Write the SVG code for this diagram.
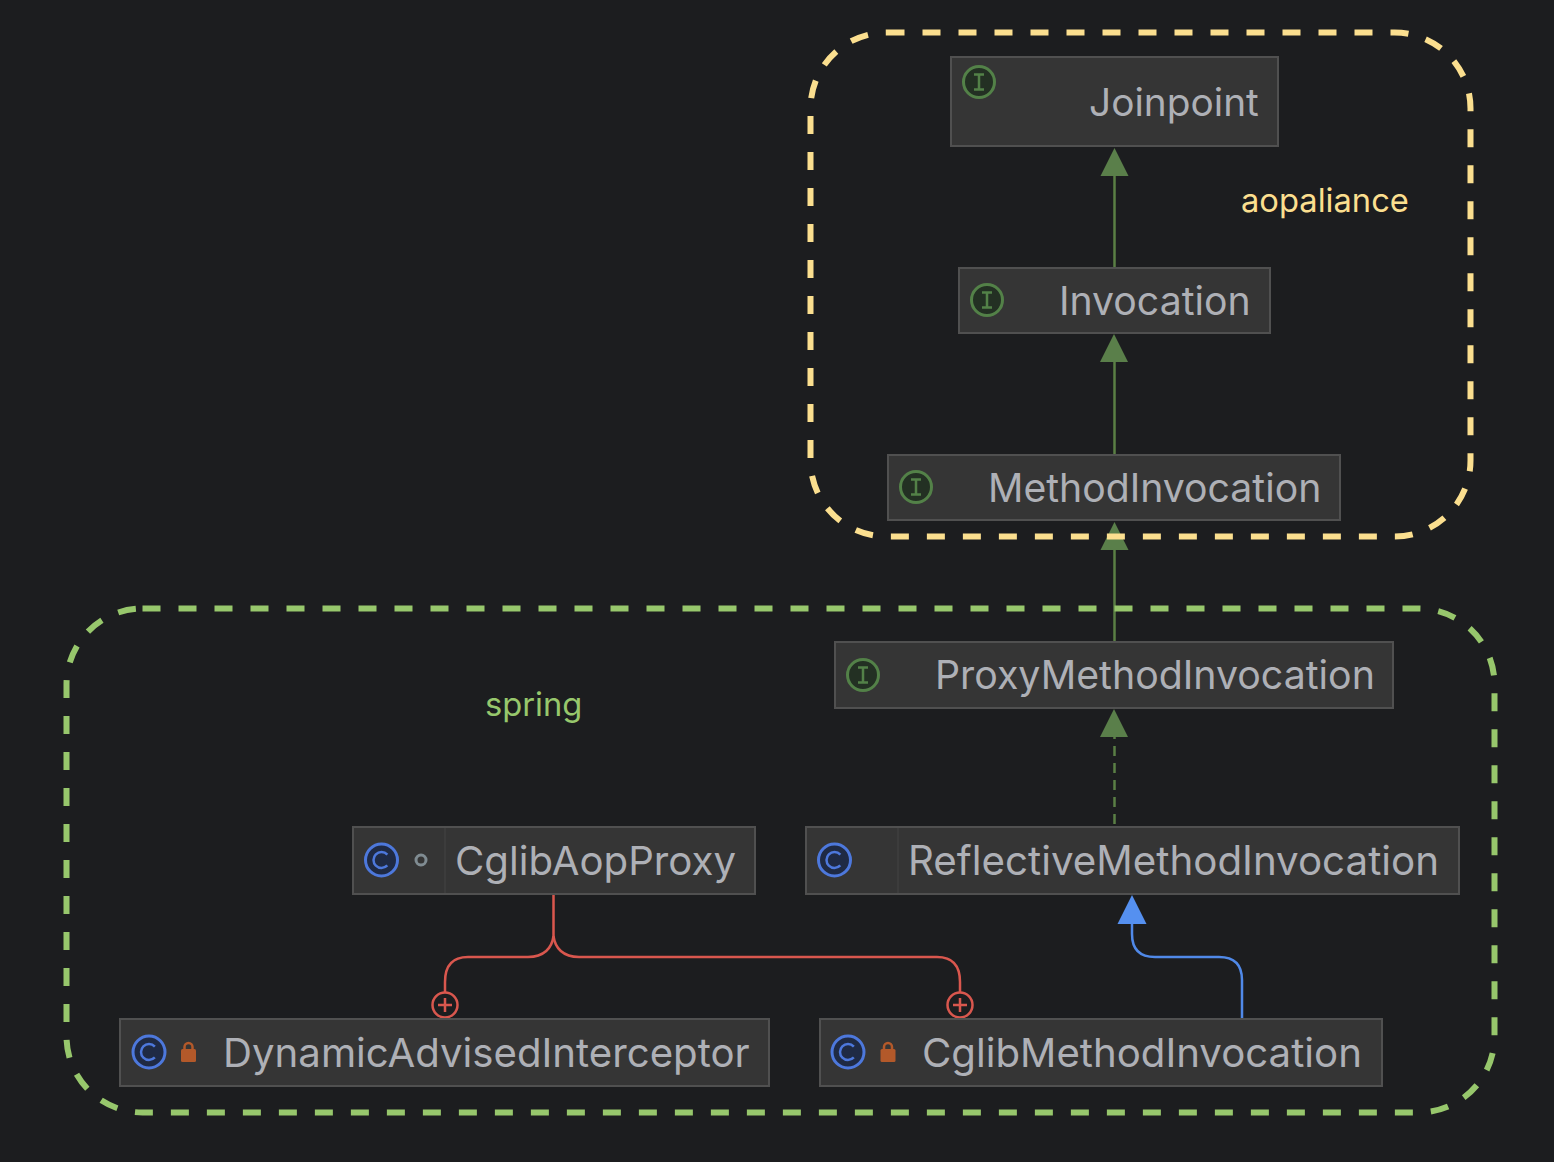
<svg xmlns="http://www.w3.org/2000/svg" width="1554" height="1162" viewBox="0 0 1554 1162">
<style>
.bg{fill:#1c1d1f}
.box{fill:#353535;stroke:#505050;stroke-width:2}
.sep{stroke:#3f3f3f;stroke-width:1.5}
.t{font-family:Inter,"Noto Sans",sans-serif;font-size:39.2px;fill:#aeb0b6;text-anchor:start}
.c{font-size:40.2px}
.lbl{font-family:Inter,"Noto Sans",sans-serif;font-size:32.7px;text-anchor:start}
.ci{fill:#233023;stroke:#538148;stroke-width:3}
.cc{fill:#1f2a44;stroke:#4d78dc;stroke-width:3}
.ig{fill:none;stroke:#538148;stroke-width:2.5}
.cg{fill:none;stroke:#4d78dc;stroke-width:2.5}
.green{fill:none;stroke:#5a7f45;stroke-width:2.5}
.red{fill:none;stroke:#d9574e;stroke-width:2.5}
.blue{fill:none;stroke:#5089e8;stroke-width:2.5}
.plus{fill:#1c1d1f;stroke:#d9574e;stroke-width:2.5}
.lock{fill:#b3592a}
.region{fill:none;stroke-width:6;stroke-dasharray:18 18}
</style>
<rect class="bg" width="1554" height="1162"/>
<g id="connectors">
<path class="green" d="M1114.500 267V172"/>
<polygon fill="#5a7f4a" points="1114.500,148 1128.500,176 1100.500,176"/>
<path class="green" d="M1114.500 454V358"/>
<polygon fill="#5a7f4a" points="1114,334 1128,362 1100,362"/>
<path class="green" d="M1114.500 641V545"/>
<polygon fill="#5a7f4a" points="1114.500,522 1128.500,550 1100.500,550"/>
<path class="green" stroke-dasharray="10 7" d="M1114.500 824V733"/>
<polygon fill="#5a7f4a" points="1114,709 1128,737 1100,737"/>
<path class="blue" d="M1242 1018V980Q1242 957 1219 957H1155Q1132 957 1132 934V920"/>
<polygon fill="#5590f0" points="1132,895 1146.500,924 1117.500,924"/>
<path class="red" d="M553.500 895V936C552 948 544 957 528 957H468C452 957 445 966 445 982V992"/>
<path class="red" d="M553.500 936C555 948 563 957 579 957H937C953 957 960 966 960 982V992"/>
<g id="compose-a"><circle class="plus" cx="445" cy="1005" r="12.500"/><path class="red" d="M438 1005H452M445 998V1012"/></g>
<g id="compose-b"><circle class="plus" cx="960" cy="1005" r="12.500"/><path class="red" d="M953 1005H967M960 998V1012"/></g>
</g>
<g id="group-aopaliance">
<rect class="region" x="810.500" y="32.500" width="660" height="504" rx="76" stroke="#fbdf8f"/>
<text class="lbl" x="1241" y="212" fill="#fbdf8f">aopaliance</text>
</g>
<g id="group-spring">
<rect class="region" x="66.500" y="608.500" width="1428" height="504" rx="76" stroke="#97c76c"/>
<text class="lbl" x="485" y="716" fill="#97c76c">spring</text>
</g>
<g id="Joinpoint">
<rect class="box" x="951" y="57" width="327" height="89"/>
<circle class="ci" cx="979" cy="82" r="15.500"/><path class="ig" d="M974 74.500H984M979 74.500V89.500M974 89.500H984"/>
<text class="t" x="1089" y="116" font-size="38.800" style="font-size:38.800px">Joinpoint</text>
</g>
<g id="Invocation">
<rect class="box" x="959" y="268" width="311" height="65"/>
<circle class="ci" cx="987" cy="300" r="15.500"/><path class="ig" d="M982 292.500H992M987 292.500V307.500M982 307.500H992"/>
<text class="t" x="1059" y="315">Invocation</text>
</g>
<g id="MethodInvocation">
<rect class="box" x="888" y="455" width="452" height="65"/>
<circle class="ci" cx="916" cy="487" r="15.500"/><path class="ig" d="M911 479.500H921M916 479.500V494.500M911 494.500H921"/>
<text class="t" x="988" y="502">MethodInvocation</text>
</g>
<g id="ProxyMethodInvocation">
<rect class="box" x="835" y="642" width="558" height="66"/>
<circle class="ci" cx="863" cy="675" r="15.500"/><path class="ig" d="M858 667.500H868M863 667.500V682.500M858 682.500H868"/>
<text class="t" x="935" y="689" style="font-size:39.300px">ProxyMethodInvocation</text>
</g>
<g id="CglibAopProxy">
<rect class="box" x="353" y="827" width="402" height="67"/>
<path class="sep" d="M445 828V893"/>
<circle class="cc" cx="381.500" cy="860" r="16"/><circle class="cg" cx="381.500" cy="860" r="8" stroke-dasharray="38 12" stroke-dashoffset="-6"/>
<circle cx="421" cy="860" r="5" fill="none" stroke="#7f8b91" stroke-width="3"/>
<text class="t c" x="455" y="875">CglibAopProxy</text>
</g>
<g id="ReflectiveMethodInvocation">
<rect class="box" x="806" y="827" width="653" height="67"/>
<path class="sep" d="M898 828V893"/>
<circle class="cc" cx="834.500" cy="860" r="16"/><circle class="cg" cx="834.500" cy="860" r="8" stroke-dasharray="38 12" stroke-dashoffset="-6"/>
<text class="t c" x="908" y="875" style="font-size:40.300px">ReflectiveMethodInvocation</text>
</g>
<g id="DynamicAdvisedInterceptor">
<rect class="box" x="120" y="1019" width="649" height="67"/>
<circle class="cc" cx="149" cy="1052" r="16"/><circle class="cg" cx="149" cy="1052" r="8" stroke-dasharray="38 12" stroke-dashoffset="-6"/>
<rect class="lock" x="181" y="1049" width="15" height="13" rx="1.500"/><path d="M184.500 1049V1047a4 4 0 0 1 8 0V1049" fill="none" stroke="#b3592a" stroke-width="2.500"/>
<text class="t c" x="223" y="1067">DynamicAdvisedInterceptor</text>
</g>
<g id="CglibMethodInvocation">
<rect class="box" x="820" y="1019" width="562" height="67"/>
<circle class="cc" cx="848" cy="1052" r="16"/><circle class="cg" cx="848" cy="1052" r="8" stroke-dasharray="38 12" stroke-dashoffset="-6"/>
<rect class="lock" x="880.500" y="1049" width="15" height="13" rx="1.500"/><path d="M884 1049V1047a4 4 0 0 1 8 0V1049" fill="none" stroke="#b3592a" stroke-width="2.500"/>
<text class="t c" x="922" y="1067">CglibMethodInvocation</text>
</g>
</svg>
